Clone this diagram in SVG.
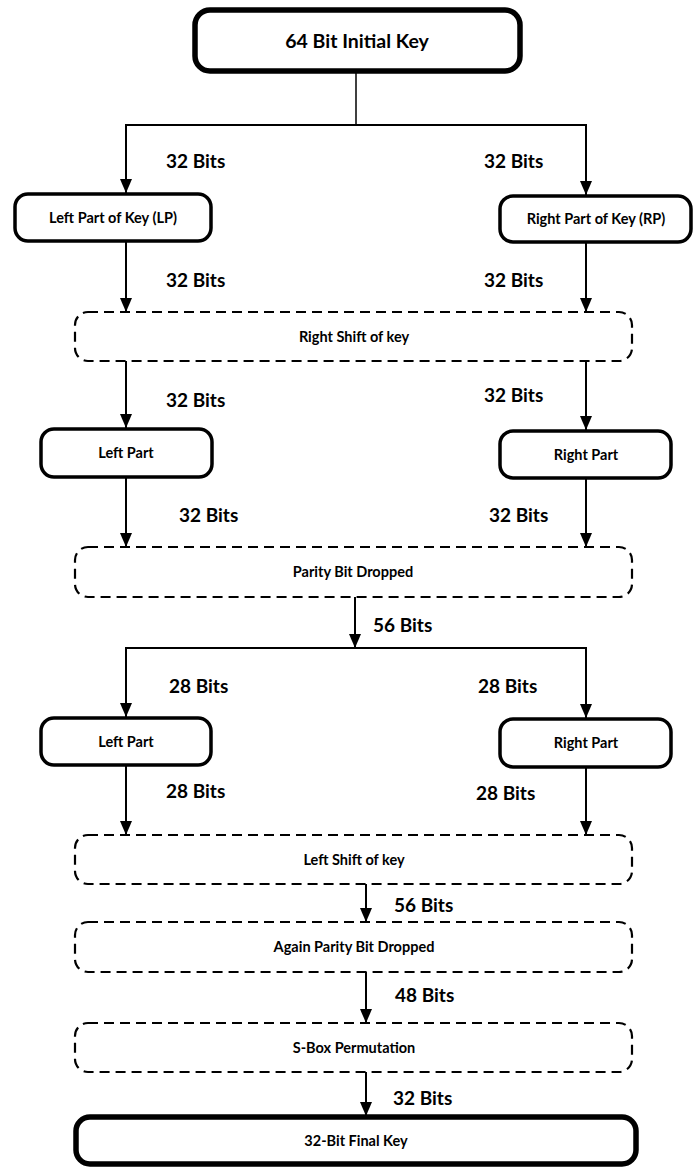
<svg xmlns="http://www.w3.org/2000/svg" width="696" height="1169" viewBox="0 0 696 1169">
<defs>
<marker id="arr" markerUnits="userSpaceOnUse" markerWidth="14" markerHeight="12" refX="14" refY="6" orient="auto">
<path d="M0,0 L14,6 L0,12 z" fill="#000"/>
</marker>
<style>
.solid{fill:#fff;stroke:#000;stroke-width:3.5}
.thick{fill:#fff;stroke:#000;stroke-width:5.5}
.dash{fill:#fff;stroke:#000;stroke-width:2.2;stroke-dasharray:10 6}
.c{stroke:#000;stroke-width:2;fill:none}
.a{stroke:#000;stroke-width:2;fill:none;marker-end:url(#arr)}
.t{font-family:Lato,"Liberation Sans",sans-serif;font-weight:bold;font-size:14.5px;text-anchor:middle;fill:#000}
.big{font-family:Lato,"Liberation Sans",sans-serif;font-weight:bold;font-size:19.5px;text-anchor:middle;fill:#000}
.lab{font-family:Lato,"Liberation Sans",sans-serif;font-weight:bold;font-size:19px;fill:#000}
</style>
</defs>
<rect width="696" height="1169" fill="#fff"/>
<g id="connectors">
<line class="c" x1="356" y1="73" x2="356" y2="125" style="stroke-width:1.5"/>
<line class="c" x1="125" y1="125" x2="587" y2="125"/>
<line class="a" x1="126" y1="125" x2="126" y2="193"/>
<line class="a" x1="586" y1="125" x2="586" y2="195"/>
<line class="a" x1="126" y1="242" x2="126" y2="312"/>
<line class="a" x1="586" y1="243" x2="586" y2="312"/>
<line class="a" x1="126" y1="361" x2="126" y2="428"/>
<line class="a" x1="586" y1="361" x2="586" y2="430"/>
<line class="a" x1="126" y1="478" x2="126" y2="547"/>
<line class="a" x1="586" y1="479" x2="586" y2="547"/>
<line class="a" x1="355" y1="597" x2="355" y2="648"/>
<line class="c" x1="125" y1="648" x2="587" y2="648"/>
<line class="a" x1="126" y1="648" x2="126" y2="717"/>
<line class="a" x1="586" y1="648" x2="586" y2="718"/>
<line class="a" x1="126" y1="766" x2="126" y2="835"/>
<line class="a" x1="586" y1="768" x2="586" y2="835"/>
<line class="a" x1="366" y1="884" x2="366" y2="922"/>
<line class="a" x1="366" y1="972" x2="366" y2="1023"/>
<line class="a" x1="366" y1="1072" x2="366" y2="1116"/>
<text class="lab" x="166" y="168">32 Bits</text>
<text class="lab" x="484" y="168">32 Bits</text>
<text class="lab" x="166" y="287">32 Bits</text>
<text class="lab" x="484" y="287">32 Bits</text>
<text class="lab" x="166" y="407">32 Bits</text>
<text class="lab" x="484" y="402">32 Bits</text>
<text class="lab" x="179" y="522">32 Bits</text>
<text class="lab" x="489" y="522">32 Bits</text>
<text class="lab" x="373" y="632">56 Bits</text>
<text class="lab" x="169" y="693">28 Bits</text>
<text class="lab" x="478" y="693">28 Bits</text>
<text class="lab" x="166" y="798">28 Bits</text>
<text class="lab" x="476" y="800">28 Bits</text>
<text class="lab" x="394" y="912">56 Bits</text>
<text class="lab" x="395" y="1002">48 Bits</text>
<text class="lab" x="393" y="1105">32 Bits</text>
</g>
<g id="n-initial"><rect class="thick" x="195" y="10" width="325" height="61" rx="15"/><text class="big" x="357" y="48">64 Bit Initial Key</text></g>
<g id="n-lp"><rect class="solid" x="15" y="194" width="196" height="47" rx="13"/><text class="t" x="113" y="223">Left Part of Key (LP)</text></g>
<g id="n-rp"><rect class="solid" x="500" y="196" width="191" height="46" rx="13"/><text class="t" x="596" y="224">Right Part of Key (RP)</text></g>
<g id="n-rshift"><rect class="dash" x="75" y="312" width="557" height="49" rx="13"/><text class="t" x="354" y="342">Right Shift of key</text></g>
<g id="n-left1"><rect class="solid" x="41" y="429" width="171" height="48" rx="13"/><text class="t" x="126" y="458">Left Part</text></g>
<g id="n-right1"><rect class="solid" x="500" y="431" width="171" height="47" rx="13"/><text class="t" x="586" y="460">Right Part</text></g>
<g id="n-parity"><rect class="dash" x="75" y="547" width="557" height="50" rx="13"/><text class="t" x="353" y="577">Parity Bit Dropped</text></g>
<g id="n-left2"><rect class="solid" x="41" y="718" width="170" height="47" rx="13"/><text class="t" x="126" y="747">Left Part</text></g>
<g id="n-right2"><rect class="solid" x="500" y="719" width="171" height="48" rx="13"/><text class="t" x="586" y="748">Right Part</text></g>
<g id="n-lshift"><rect class="dash" x="75" y="835" width="557" height="49" rx="13"/><text class="t" x="354" y="865">Left Shift of key</text></g>
<g id="n-again"><rect class="dash" x="75" y="922" width="557" height="50" rx="13"/><text class="t" x="354" y="952">Again Parity Bit Dropped</text></g>
<g id="n-sbox"><rect class="dash" x="75" y="1023" width="557" height="49" rx="13"/><text class="t" x="354" y="1053">S-Box Permutation</text></g>
<g id="n-final"><rect class="thick" x="76" y="1117" width="560" height="47" rx="14"/><text class="t" x="356" y="1146">32-Bit Final Key</text></g>
</svg>
